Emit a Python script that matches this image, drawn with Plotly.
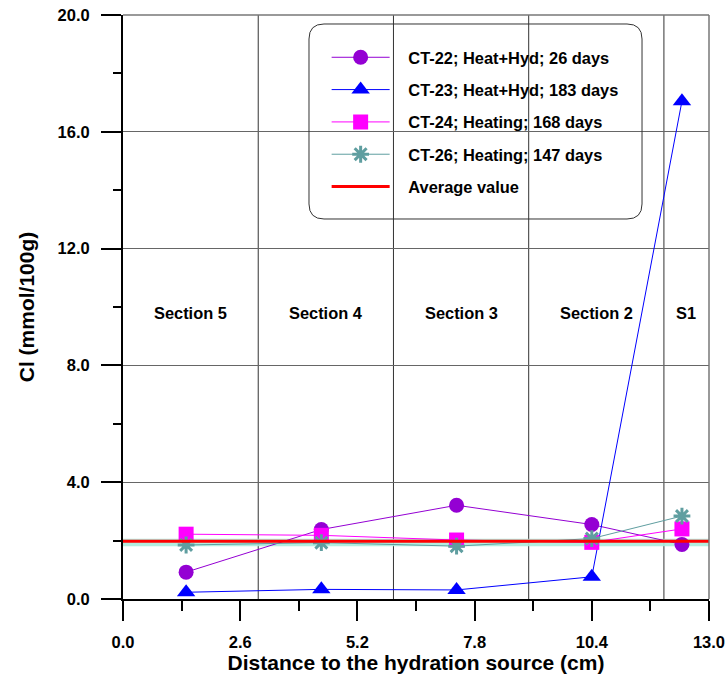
import plotly.graph_objects as go

# ---- data ----
x_pos = [1.4, 4.4, 7.4, 10.4, 12.4]
ct22 = [0.92, 2.38, 3.21, 2.55, 1.87]
ct23 = [0.23, 0.33, 0.31, 0.76, 17.05]
ct24 = [2.22, 2.18, 2.02, 1.94, 2.40]
ct26 = [1.85, 1.93, 1.81, 2.07, 2.84]
avg_x = [0.0, 13.0]
avg_value = 1.98
band_low = 1.81
band_high = 2.06
section_bounds = [3.0, 6.0, 9.0, 12.0]
section_centers = [1.5, 4.5, 7.5, 10.5, 12.5]
section_labels = ["Section 5", "Section 4", "Section 3", "Section 2", "S1"]
series_names = ["CT-22; Heat+Hyd; 26 days", "CT-23; Heat+Hyd; 183 days",
                "CT-24; Heating; 168 days", "CT-26; Heating; 147 days"]

FONT = "Liberation Sans, Arial, sans-serif"
PAD = "\u00a0\u00a0\u00a0"

fig = go.Figure()

# shaded band around the average
fig.add_trace(go.Scatter(x=avg_x, y=[band_low, band_low], mode="lines",
                         line=dict(width=0), showlegend=False, hoverinfo="skip"))
fig.add_trace(go.Scatter(x=avg_x, y=[band_high, band_high], mode="lines",
                         line=dict(width=0), fill="tonexty",
                         fillcolor="rgba(170,235,220,0.9)",
                         showlegend=False, hoverinfo="skip"))

styles = [
    dict(color="#9400D3", symbol="circle", size=15, lw=0),
    dict(color="#0000FF", symbol="triangle-up", size=16, lw=0),
    dict(color="#FF00FF", symbol="square", size=15, lw=0),
    dict(color="#5F9EA0", symbol="asterisk-open", size=14, lw=3),
]
for i, (ys, st) in enumerate(zip([ct22, ct23, ct24, ct26], styles)):
    mk = dict(color=st["color"], symbol=st["symbol"], size=st["size"])
    if st["lw"]:
        mk["line"] = dict(color=st["color"], width=st["lw"])
    else:
        mk["line"] = dict(width=0)
    fig.add_trace(go.Scatter(x=x_pos, y=ys, mode="lines+markers",
                             name=PAD + series_names[i], legendgroup=f"g{i}",
                             line=dict(color=st["color"], width=1),
                             marker=mk))

fig.add_trace(go.Scatter(x=avg_x, y=[avg_value, avg_value], mode="lines",
                         name=PAD + "Average value", legendgroup="g4",
                         line=dict(color="#FF0000", width=3)))

shapes = []
for b in section_bounds:
    shapes.append(dict(type="line", xref="x", yref="paper", x0=b, x1=b, y0=0, y1=1,
                       line=dict(color="#333333", width=1), layer="below"))
# top and right border
shapes.append(dict(type="line", xref="paper", yref="paper", x0=0, x1=1, y0=1, y1=1,
                   line=dict(color="#777777", width=1.5)))
shapes.append(dict(type="line", xref="paper", yref="paper", x0=1, x1=1, y0=0, y1=1,
                   line=dict(color="#777777", width=1.5)))
# rounded legend frame
x0, x1, y0, y1 = 0.3174, 0.8857, 0.6507, 0.9846
rx, ry = 0.0256, 0.0257
path = (f"M{x0+rx},{y1} L{x1-rx},{y1} Q{x1},{y1} {x1},{y1-ry} "
        f"L{x1},{y0+ry} Q{x1},{y0} {x1-rx},{y0} L{x0+rx},{y0} "
        f"Q{x0},{y0} {x0},{y0+ry} L{x0},{y1-ry} Q{x0},{y1} {x0+rx},{y1} Z")
shapes.append(dict(type="path", xref="paper", yref="paper", path=path,
                   line=dict(color="#333333", width=1)))

annotations = []
for cx, lab in zip(section_centers, section_labels):
    annotations.append(dict(x=cx, y=9.8, xref="x", yref="y", text=lab, showarrow=False,
                            font=dict(family=FONT, size=16.4, color="black", weight="bold")))

fig.update_layout(
    width=728, height=675,
    margin=dict(l=123, r=19, t=15, b=76),
    plot_bgcolor="white", paper_bgcolor="white",
    shapes=shapes, annotations=annotations,
    font=dict(family=FONT, color="black"),
    legend=dict(x=0.3475, y=0.957, xanchor="left", yanchor="top",
                bgcolor="rgba(0,0,0,0)", borderwidth=0,
                font=dict(family=FONT, size=16.4, color="black", weight="bold"),
                tracegroupgap=8, itemwidth=58),
    showlegend=True,
)
fig.update_xaxes(range=[0, 13], tick0=0, dtick=2.6, tickformat=".1f", automargin=False,
                 ticks="outside", ticklen=20, tickwidth=2, tickcolor="black",
                 minor=dict(dtick=1.3, ticks="outside", ticklen=10, tickwidth=2, tickcolor="black"),
                 showgrid=False, zeroline=False, showline=True, linecolor="black", linewidth=2,
                 ticklabelstandoff=7,
                 tickfont=dict(family=FONT, size=16.5, color="black", weight="bold"),
                 title=dict(text="Distance to the hydration source (cm)", standoff=3,
                            font=dict(family=FONT, size=21, color="black", weight="bold")))
fig.update_yaxes(range=[0, 20], tick0=0, dtick=4, tickformat=".1f", automargin=False,
                 ticks="outside", ticklen=20, tickwidth=2, tickcolor="black",
                 minor=dict(dtick=2, ticks="outside", ticklen=8, tickwidth=2, tickcolor="black",
                            showgrid=False),
                 showgrid=True, gridcolor="#666666", gridwidth=1,
                 zeroline=False, showline=True, linecolor="black", linewidth=2,
                 ticklabelstandoff=8,
                 tickfont=dict(family=FONT, size=16.5, color="black", weight="bold"),
                 title=dict(text="Cl (mmol/100g)", standoff=17,
                            font=dict(family=FONT, size=21, color="black", weight="bold")))

fig.write_html("out.html")
